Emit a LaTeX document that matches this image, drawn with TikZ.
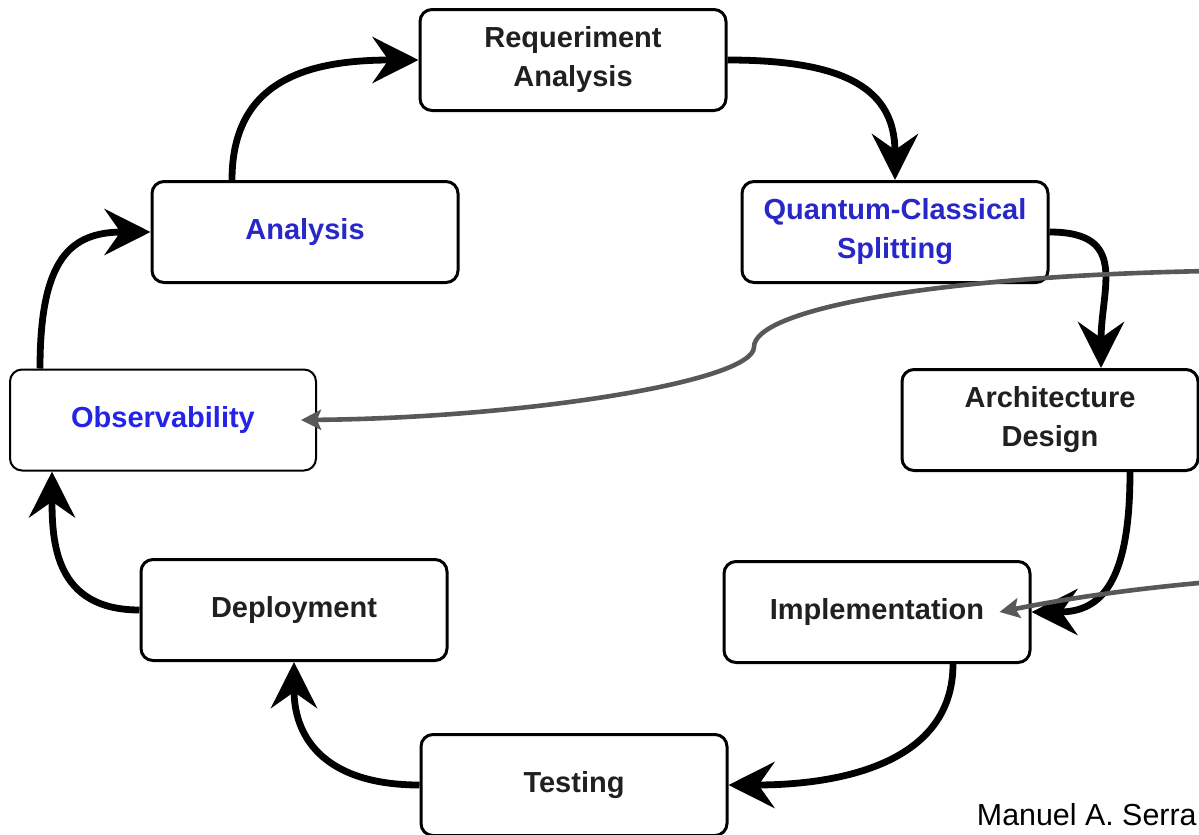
\documentclass[tikz,border=0pt]{standalone}
\usepackage{fontspec}
\setmainfont{Liberation Sans}
\usetikzlibrary{arrows.meta}

\begin{document}
\begin{tikzpicture}[x = 0.5pt,
                    y = -0.5pt]

  \useasboundingbox (0,0) rectangle (1199,835);
  \clip (0,0) rectangle (1199,835);


  % COLORS
  \definecolor{textcolor_k}{RGB}{32,32,32}
  \definecolor{textcolor_b}{RGB}{40,40,200}
  \definecolor{textcolor_o}{RGB}{36,36,230}
  \definecolor{linkcolor_g}{RGB}{88,88,88}


  % STYLES
  \tikzstyle{stagebox} = [draw=black, line width=1.5pt, rounded corners=6pt, fill=white, minimum width=153pt, minimum height=50.5pt, align=center, text=textcolor_k, font=\fontsize{14.5}{19.5}\selectfont\bfseries]
  \tikzstyle{newstage} = [stagebox, text=textcolor_b]
  \tikzstyle{flow} = [draw=black, line width=3.4pt, -{Stealth[length=23pt, width=23pt, inset=8pt]}]
  \tikzstyle{feedback} = [draw=linkcolor_g, line width=2.3pt, -{Stealth[length=10pt, width=10pt, inset=2pt]}]


  % STAGES
  \node[stagebox] (req)  at (573, 60)  {Requeriment\\Analysis};
  \node[newstage] (ana)  at (305, 232) {Analysis};
  \node[newstage] (qcs)  at (895, 232) {Quantum-Classical\\Splitting};
  \node[newstage, line width=1pt, text=textcolor_o] (obs) at (163, 420) {Observability};
  \node[stagebox, minimum width=148pt] (arch) at (1050, 420) {Architecture\\Design};
  \node[stagebox] (dep)  at (294, 610) {Deployment};
  \node[stagebox] (impl) at (877, 612) {Implementation};
  \node[stagebox] (test) at (574, 785) {Testing};


  % CYCLE
  \draw[flow] ([xshift=-36.5pt]ana.north) .. controls +(0,-100) and +(-110,0) .. (req.west);
  \draw[flow] (req.east) .. controls +(120,0) and +(0,-90) .. (qcs.north);
  \draw[flow] (qcs.east) .. controls +(80,0) and +(0,-80) .. ([xshift=25.5pt]arch.north);
  \draw[flow] ([xshift=40pt]arch.south) .. controls +(0,110) and +(70,0) .. (impl.east);
  \draw[flow] ([xshift=38pt]impl.south) .. controls +(0,100) and +(110,0) .. (test.east);
  \draw[flow] (test.west) .. controls +(-90,0) and +(0,80) .. (dep.south);
  \draw[flow] (dep.west) .. controls +(-85,0) and +(0,70) .. ([xshift=-55.5pt]obs.south);
  \draw[flow] ([xshift=-61.5pt]obs.north) .. controls +(0,-110) and +(-80,0) .. (ana.west);


  % FEEDBACK
  \coordinate (link_in_a) at (1210, 271);
  \coordinate (link_bend) at (754, 347);
  \coordinate (link_in_b) at (1210, 582);
  \draw[feedback] (link_in_a) .. controls (930,276) and (754,310) .. (link_bend)
                  .. controls (754,382) and (520,418) .. ([xshift=-8pt]obs.east);
  \draw[feedback] (link_in_b) .. controls (1120,590) and (1060,600) .. ([xshift=-16pt]impl.east);


  % AUTHOR
  \node[anchor=base east, inner xsep=1pt, text=black, font=\fontsize{15.2}{18}\selectfont] (author) at (1199, 825) {Manuel A. Serra};

\end{tikzpicture}
\end{document}
